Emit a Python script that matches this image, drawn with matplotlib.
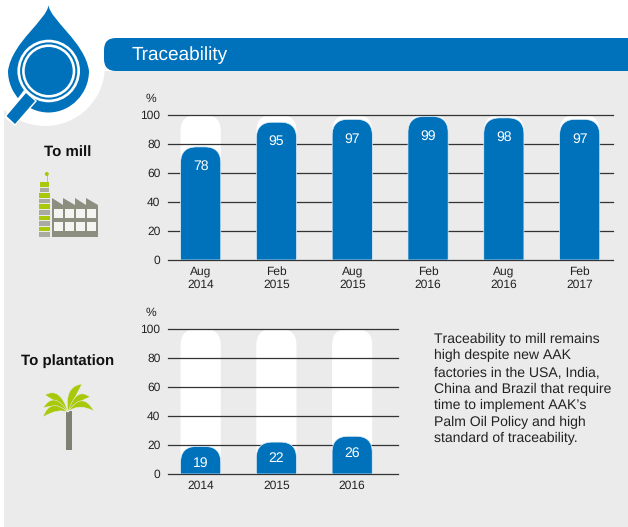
import numpy as np
import matplotlib
matplotlib.use('Agg')
import matplotlib.pyplot as plt
from matplotlib.path import Path
from matplotlib.patches import PathPatch, Circle, Rectangle, Polygon, FancyBboxPatch

plt.rcParams['font.family'] = ['Liberation Sans', 'DejaVu Sans']
plt.rcParams['text.hinting'] = 'no_hinting'
plt.rcParams['text.hinting_factor'] = 1

# data
mill_labels = ['Aug\n2014', 'Feb\n2015', 'Aug\n2015', 'Feb\n2016', 'Aug\n2016', 'Feb\n2017']
mill_values = [78, 95, 97, 99, 98, 97]
plantation_labels = ['2014', '2015', '2016']
plantation_values = [19, 22, 26]
y_ticks = [0, 20, 40, 60, 80, 100]

title = 'Traceability'
note = ("Traceability to mill remains\nhigh despite new AAK\nfactories in the USA, India,\n"
        "China and Brazil that require\ntime to implement AAK\u2019s\n"
        "Palm Oil Policy and high\nstandard of traceability.")

BLUE = '#0072bc'
GREY = '#ebebeb'
W, H = 628, 527

fig = plt.figure(figsize=(W / 100, H / 100), dpi=100, facecolor='white')

# overlay in pixel coords for the panel and the icons
bg = fig.add_axes([0, 0, 1, 1], zorder=0)
bg.set_xlim(0, W)
bg.set_ylim(H, 0)
bg.axis('off')


def px_axes(x0, x1, y_top, y_bottom):
    return fig.add_axes([x0 / W, 1 - y_bottom / H, (x1 - x0) / W, (y_bottom - y_top) / H], zorder=2)


def rounded_bar(ax, x, value, color, width=0.53, r_px=16, z=2, edge='none'):
    # round the top corners, radius given in pixels
    bbox = ax.get_window_extent()
    x0, x1 = ax.get_xlim()
    y0, y1 = ax.get_ylim()
    rx = r_px * (x1 - x0) / bbox.width
    ry = r_px * (y1 - y0) / bbox.height
    ry = min(ry, value)
    l, r = x - width / 2, x + width / 2
    verts = [(l, 0), (l, value - ry), (l, value), (l + rx, value), (r - rx, value),
             (r, value), (r, value - ry), (r, 0), (l, 0)]
    codes = [Path.MOVETO, Path.LINETO, Path.CURVE3, Path.CURVE3, Path.LINETO,
             Path.CURVE3, Path.CURVE3, Path.LINETO, Path.CLOSEPOLY]
    ax.add_patch(PathPatch(Path(verts, codes), facecolor=color, edgecolor=edge, lw=0.5, zorder=z))


def bar_chart(ax, labels, values, xlim, label_offset):
    ax.set_facecolor('none')
    ax.set_xlim(*xlim)
    ax.set_ylim(0, 100)
    pos = np.arange(len(values))
    for x, v in zip(pos, values):
        rounded_bar(ax, x, 100, 'white', z=1)
        rounded_bar(ax, x, v, BLUE, z=3, edge='#e4eef6')
        ax.annotate(str(v), (x, v), xytext=(0, label_offset), textcoords='offset points', ha='center',
                    va='center', color='white', fontsize=10.4, zorder=4)
    ax.set_yticks(y_ticks)
    ax.set_xticks(pos)
    ax.set_xticklabels(labels, fontsize=8.8, linespacing=1.2, color='#222222')
    ax.tick_params(axis='y', length=0, labelsize=8.6, pad=5.5, labelcolor='#222222')
    ax.tick_params(axis='x', length=0, pad=4.5)
    for s in ax.spines.values():
        s.set_visible(False)
    ax.grid(axis='y', color='#333333', lw=0.9)
    ax.set_axisbelow(False)
    for ln in ax.get_ygridlines():
        ln.set_zorder(2)
        ln.set_clip_on(False)
    ax.annotate('%', (0, 1), xycoords='axes fraction', xytext=(-16, 12), textcoords='offset points',
                fontsize=8.6, ha='left', va='center', color='#222222')


# panel
bg.add_patch(Rectangle((4, 71), W - 4, H - 71, facecolor=GREY, edgecolor='none', zorder=1))
bg.add_patch(Circle((45, 66), 60, facecolor='white', edgecolor='none', zorder=1.2))

# header band
bg.add_patch(FancyBboxPatch((104, 38), W, 33, boxstyle='round,pad=0,rounding_size=12',
                            facecolor=BLUE, edgecolor='none', zorder=2))
bg.text(132, 55, title, color='white', fontsize=13.6, va='center', ha='left', zorder=3)

# drop with magnifier
drop_v = [(48.5, 5), (50, 20), (85, 42), (89, 71), (89, 93.4), (70.9, 112.5), (48.5, 112.5),
          (26.1, 112.5), (8, 93.4), (8, 71), (12, 42), (47, 20), (48.5, 5)]
drop_c = [Path.MOVETO] + [Path.CURVE4] * 12
bg.add_patch(PathPatch(Path(drop_v, drop_c), facecolor=BLUE, edgecolor='none', zorder=3))
bg.add_patch(Polygon([(24, 90), (37, 101), (15, 126), (4, 117)], facecolor='white', edgecolor='none', zorder=3.5))
bg.add_patch(Polygon([(26, 93), (35, 101), (15, 124), (6.5, 116)], facecolor=BLUE, edgecolor='none', zorder=3.6))
bg.add_patch(Circle((48.7, 71), 31.3, facecolor='white', edgecolor='none', zorder=4))
bg.add_patch(Circle((48.7, 71), 28.6, facecolor=BLUE, edgecolor='none', zorder=4.1))
bg.add_patch(Circle((48.7, 71), 26.6, facecolor='white', edgecolor='none', zorder=4.2))
bg.add_patch(Circle((48.7, 71), 24, facecolor=BLUE, edgecolor='none', zorder=4.3))

# side labels
bg.text(68, 152.5, 'To mill', fontsize=11, fontweight='bold', ha='center', va='center', color='#111111', zorder=3)
bg.text(68, 361, 'To plantation', fontsize=11, fontweight='bold', ha='center', va='center', color='#111111', zorder=3)

# factory icon
LIME, STONE = '#a8c80a', '#a9aaa0'
bg.plot([46.5, 46.5], [174, 182], color='#b5c46a', lw=0.6, zorder=3)
bg.add_patch(Circle((46.8, 174), 2, facecolor=LIME, edgecolor='none', zorder=3))
seg_y = np.arange(182, 237, 5.6)
for i, y in enumerate(seg_y):
    c = LIME if i % 2 == 0 else STONE
    w0, w1 = (40, 49) if i < 2 else (39, 50)
    bg.add_patch(Rectangle((w0, y), w1 - w0, 4.6, facecolor=c, edgecolor='none', zorder=3))
bg.add_patch(Polygon([(52, 198), (63, 205), (63, 198), (75, 205), (75, 198), (86, 205), (86, 198),
                      (98, 205), (98, 237), (52, 237)], facecolor='#8c8e80', edgecolor='none', zorder=3))
for y in (209, 222):
    for x in (54, 65, 76, 87):
        bg.add_patch(Rectangle((x, y), 9, 8.5, facecolor='#f4f4f0', edgecolor='none', zorder=3.2))

# palm icon
bg.add_patch(Polygon([(66, 411), (71.5, 411), (71.5, 450), (66, 450)], facecolor='#7d8073', edgecolor='none', zorder=3))
fronds = [[(82, 384), (64, 386), (73, 401)],
          [(45, 395), (60, 386), (60, 404)],
          [(43, 408), (54, 390), (58, 403)],
          [(43, 417), (50, 397), (58, 408)],
          [(90, 397), (76, 386), (76, 402)],
          [(94, 411), (82, 390), (78, 403)]]
base = (68, 412)
for tip, up, low in fronds:
    p = Path([base, up, tip, low, base], [Path.MOVETO, Path.CURVE3, Path.CURVE3, Path.CURVE3, Path.CURVE3])
    bg.add_patch(PathPatch(p, facecolor=LIME, edgecolor=GREY, lw=0.4, zorder=3.4))

# charts
ax1 = px_axes(168, 613, 115, 260)
bar_chart(ax1, mill_labels, mill_values, (-0.431, 5.44), -14)
ax2 = px_axes(168, 398, 329, 474)
bar_chart(ax2, plantation_labels, plantation_values, (-0.431, 2.605), -12)

bg.text(434, 389, note, fontsize=10.1, ha='left', va='center', linespacing=1.35, color='#222222', zorder=3)

fig.savefig('out.png', dpi=100, facecolor='white')
